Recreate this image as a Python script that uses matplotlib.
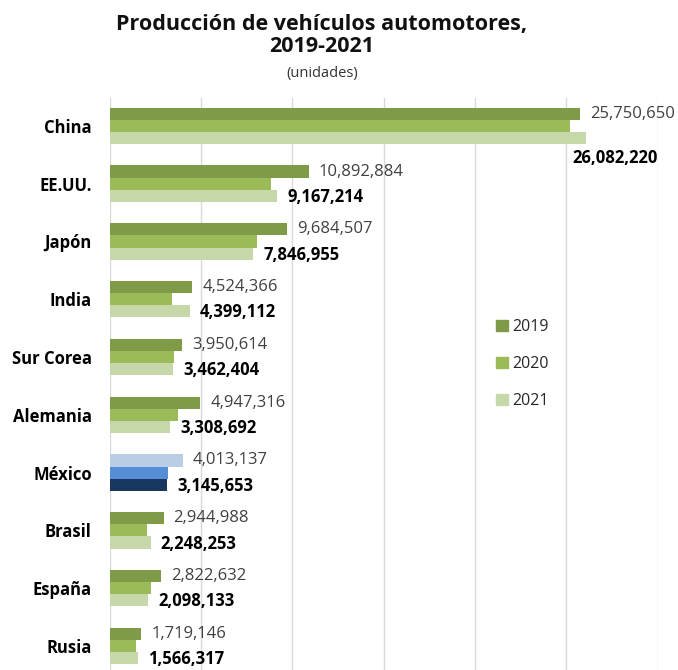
import matplotlib.pyplot as plt
from matplotlib.patches import Patch
import numpy as np

paises = ["China", "EE.UU.", "Japón", "India", "Sur Corea", "Alemania",
          "México", "Brasil", "España", "Rusia"]
prod_2019 = [25750650, 10892884, 9684507, 4524366, 3950614, 4947316,
             4013137, 2944988, 2822632, 1719146]
prod_2020 = [25225000, 8822000, 8068000, 3382000, 3507000, 3742000,
             3177000, 2014000, 2268000, 1435000]
prod_2021 = [26082220, 9167214, 7846955, 4399112, 3462404, 3308692,
             3145653, 2248253, 2098133, 1566317]
anios = ["2019", "2020", "2021"]

verdes = ["#7F9B48", "#9BBB59", "#C6D8A9"]
azules = ["#B9CDE5", "#558ED5", "#17375E"]

plt.rcParams['font.family'] = ['Open Sans', 'DejaVu Sans']

fig = plt.figure(figsize=(6.78, 6.70), dpi=100)
ax = fig.add_axes([0.162, 0.0, 0.808, 0.854])

y = np.arange(len(paises))
h = 0.21
series = [prod_2019, prod_2020, prod_2021]
for k, vals in enumerate(series):
    cols = [azules[k] if p == "México" else verdes[k] for p in paises]
    ax.barh(y + (k - 1) * h, vals, height=h, color=cols, zorder=3)

# etiquetas: 2019 normal, 2021 en negrita
for i, p in enumerate(paises):
    ax.annotate(f"{prod_2019[i]:,}", (prod_2019[i], y[i] - h),
                xytext=(10, 0), textcoords="offset pixels",
                ha="left", va="center", fontsize=12, color="#404040")
    if p == "China":
        ax.annotate(f"{prod_2021[i]:,}", (prod_2021[i], y[i] + h),
                    xytext=(-14, -20), textcoords="offset pixels",
                    ha="left", va="center", fontsize=12,
                    fontweight="bold", color="black")
    else:
        ax.annotate(f"{prod_2021[i]:,}", (prod_2021[i], y[i] + h),
                    xytext=(10, -1), textcoords="offset pixels",
                    ha="left", va="center", fontsize=12,
                    fontweight="bold", color="black")

ax.set_xlim(0, 30000000)
ax.set_xticks(np.arange(0, 30000001, 5000000))
ax.set_ylim(9.415, -0.485)
ax.set_yticks(y)
ax.set_yticklabels(paises, fontsize=12, fontweight="bold")
ax.tick_params(axis="y", length=0, pad=13)
ax.tick_params(axis="x", length=0, labelbottom=False)
ax.grid(axis="x", color="#D9D9D9", linewidth=1, zorder=0)
for s in ax.spines.values():
    s.set_visible(False)

handles = [Patch(color=c) for c in verdes]
fig.legend(handles, anios, loc="upper left", bbox_to_anchor=(0.711, 0.545),
           frameon=False, fontsize=11.5, handlelength=0.7, handleheight=0.7,
           handletextpad=0.3, labelspacing=1.3, labelcolor="#262626")

fig.text(0.475, 0.947, "Producción de vehículos automotores,\n2019-2021",
         ha="center", va="center", fontsize=15.5, fontweight="bold",
         linespacing=1.05, color="#111111")
fig.text(0.475, 0.891, "(unidades)", ha="center", va="center",
         fontsize=10.5, color="#333333")

fig.savefig("out.png", dpi=100)
